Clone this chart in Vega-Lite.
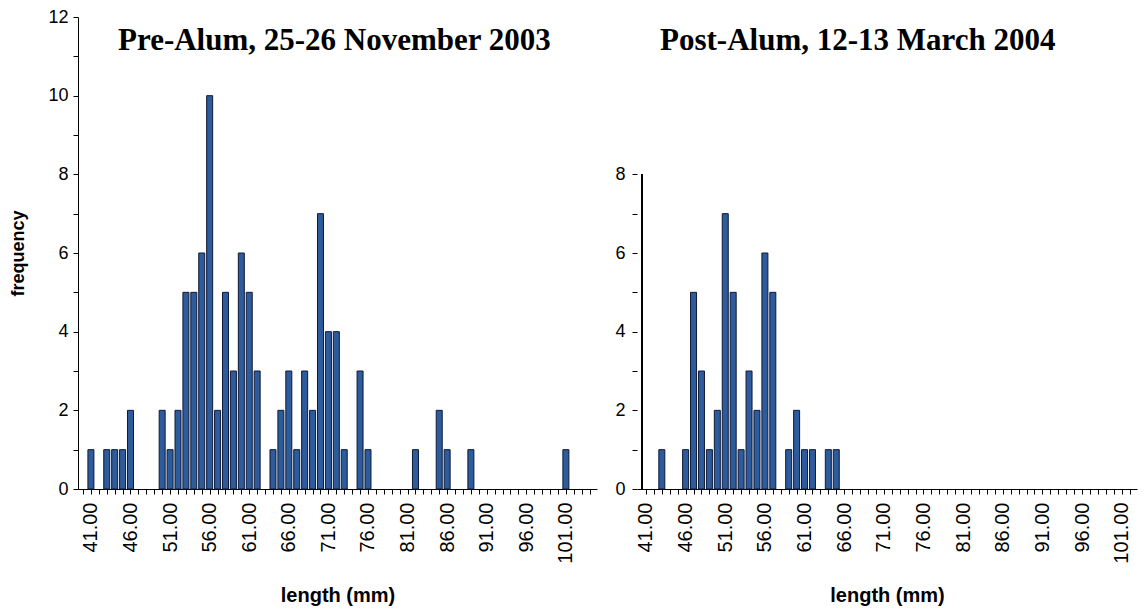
{
  "$schema": "https://vega.github.io/schema/vega-lite/v6.json",
  "background": "white",
  "padding": {"left": 9, "top": 8, "right": 5, "bottom": 5},
  "spacing": 14,
  "config": {
    "view": {"stroke": null},
    "axis": {
      "labelFont": "Liberation Sans",
      "titleFont": "Liberation Sans",
      "labelColor": "black",
      "titleColor": "black",
      "domainColor": "black",
      "tickColor": "black",
      "grid": false,
      "labelFontSize": 18,
      "titleFontSize": 18,
      "titleFontWeight": "bold",
      "tickSize": 5
    },
    "axisX": {"labelFontSize": 20, "titleFontSize": 20},
    "title": {"font": "Liberation Serif", "fontSize": 31, "fontWeight": "bold", "color": "black"}
  },
  "data": {
    "values": [
      {"panel": "pre", "length": 41, "freq": 1},
      {"panel": "pre", "length": 43, "freq": 1},
      {"panel": "pre", "length": 44, "freq": 1},
      {"panel": "pre", "length": 45, "freq": 1},
      {"panel": "pre", "length": 46, "freq": 2},
      {"panel": "pre", "length": 50, "freq": 2},
      {"panel": "pre", "length": 51, "freq": 1},
      {"panel": "pre", "length": 52, "freq": 2},
      {"panel": "pre", "length": 53, "freq": 5},
      {"panel": "pre", "length": 54, "freq": 5},
      {"panel": "pre", "length": 55, "freq": 6},
      {"panel": "pre", "length": 56, "freq": 10},
      {"panel": "pre", "length": 57, "freq": 2},
      {"panel": "pre", "length": 58, "freq": 5},
      {"panel": "pre", "length": 59, "freq": 3},
      {"panel": "pre", "length": 60, "freq": 6},
      {"panel": "pre", "length": 61, "freq": 5},
      {"panel": "pre", "length": 62, "freq": 3},
      {"panel": "pre", "length": 64, "freq": 1},
      {"panel": "pre", "length": 65, "freq": 2},
      {"panel": "pre", "length": 66, "freq": 3},
      {"panel": "pre", "length": 67, "freq": 1},
      {"panel": "pre", "length": 68, "freq": 3},
      {"panel": "pre", "length": 69, "freq": 2},
      {"panel": "pre", "length": 70, "freq": 7},
      {"panel": "pre", "length": 71, "freq": 4},
      {"panel": "pre", "length": 72, "freq": 4},
      {"panel": "pre", "length": 73, "freq": 1},
      {"panel": "pre", "length": 75, "freq": 3},
      {"panel": "pre", "length": 76, "freq": 1},
      {"panel": "pre", "length": 82, "freq": 1},
      {"panel": "pre", "length": 85, "freq": 2},
      {"panel": "pre", "length": 86, "freq": 1},
      {"panel": "pre", "length": 89, "freq": 1},
      {"panel": "pre", "length": 101, "freq": 1},
      {"panel": "post", "length": 43, "freq": 1},
      {"panel": "post", "length": 46, "freq": 1},
      {"panel": "post", "length": 47, "freq": 5},
      {"panel": "post", "length": 48, "freq": 3},
      {"panel": "post", "length": 49, "freq": 1},
      {"panel": "post", "length": 50, "freq": 2},
      {"panel": "post", "length": 51, "freq": 7},
      {"panel": "post", "length": 52, "freq": 5},
      {"panel": "post", "length": 53, "freq": 1},
      {"panel": "post", "length": 54, "freq": 3},
      {"panel": "post", "length": 55, "freq": 2},
      {"panel": "post", "length": 56, "freq": 6},
      {"panel": "post", "length": 57, "freq": 5},
      {"panel": "post", "length": 59, "freq": 1},
      {"panel": "post", "length": 60, "freq": 2},
      {"panel": "post", "length": 61, "freq": 1},
      {"panel": "post", "length": 62, "freq": 1},
      {"panel": "post", "length": 64, "freq": 1},
      {"panel": "post", "length": 65, "freq": 1}
    ]
  },
  "hconcat": [
    {
      "width": 519,
      "height": 472,
      "title": {"text": "Pre-Alum, 25-26 November 2003", "anchor": "start", "frame": "group", "dx": 40, "baseline": "alphabetic", "offset": -73},
      "transform": [{"filter": "datum.panel == 'pre'"}],
      "mark": {"type": "bar", "fill": "#2d5b9c", "stroke": "#0e1a36", "strokeWidth": 1, "size": 6},
      "encoding": {
        "x": {
          "field": "length", "type": "quantitative",
          "scale": {"domain": [40, 104.3], "nice": false, "zero": false},
          "axis": {
            "title": "length (mm)",
            "values": [40,41,42,43,44,45,46,47,48,49,50,51,52,53,54,55,56,57,58,59,60,61,62,63,64,65,66,67,68,69,70,71,72,73,74,75,76,77,78,79,80,81,82,83,84,85,86,87,88,89,90,91,92,93,94,95,96,97,98,99,100,101,102,103,104],
            "labelExpr": "(datum.value - 41) % 5 == 0 ? format(datum.value, '.2f') : ''",
            "labelAngle": -90,
            "labelPadding": 8,
            "labelOverlap": false,
            "titlePadding": 22
          }
        },
        "y": {
          "field": "freq", "type": "quantitative",
          "scale": {"domain": [0, 12], "nice": false},
          "axis": {
            "title": "frequency",
            "values": [0,1,2,3,4,5,6,7,8,9,10,11,12],
            "labelExpr": "datum.value % 2 == 0 ? datum.label : ''",
            "labelPadding": 5,
            "labelOverlap": false,
            "titlePadding": 20
          }
        }
      }
    },
    {
      "width": 500,
      "height": 472,
      "title": {"text": "Post-Alum, 12-13 March 2004", "anchor": "start", "frame": "group", "dx": 23, "baseline": "alphabetic", "offset": -64},
      "transform": [{"filter": "datum.panel == 'post'"}],
      "layer": [
        {
          "mark": {"type": "bar", "fill": "#2d5b9c", "stroke": "#0e1a36", "strokeWidth": 1, "size": 6},
          "encoding": {
            "x": {
              "field": "length", "type": "quantitative",
              "scale": {"domain": [40.5, 102.3], "nice": false, "zero": false},
              "axis": {
                "title": "length (mm)",
                "values": [41,42,43,44,45,46,47,48,49,50,51,52,53,54,55,56,57,58,59,60,61,62,63,64,65,66,67,68,69,70,71,72,73,74,75,76,77,78,79,80,81,82,83,84,85,86,87,88,89,90,91,92,93,94,95,96,97,98,99,100,101,102],
                "labelExpr": "(datum.value - 41) % 5 == 0 ? format(datum.value, '.2f') : ''",
                "labelAngle": -90,
                "labelPadding": 8,
                "labelOverlap": false,
                "titlePadding": 22
              }
            },
            "y": {
              "field": "freq", "type": "quantitative",
              "scale": {"domain": [0, 12], "nice": false},
              "axis": {
                "title": null,
                "domain": false,
                "values": [0,1,2,3,4,5,6,7,8],
                "labelExpr": "datum.value % 2 == 0 ? datum.label : ''",
                "labelPadding": 7,
                "labelOverlap": false
              }
            }
          }
        },
        {
          "mark": {"type": "rule", "color": "black", "strokeWidth": 1},
          "encoding": {
            "x": {
              "datum": 40.5, "type": "quantitative",
              "axis": {
                "title": "length (mm)",
                "values": [41,42,43,44,45,46,47,48,49,50,51,52,53,54,55,56,57,58,59,60,61,62,63,64,65,66,67,68,69,70,71,72,73,74,75,76,77,78,79,80,81,82,83,84,85,86,87,88,89,90,91,92,93,94,95,96,97,98,99,100,101,102],
                "labelExpr": "(datum.value - 41) % 5 == 0 ? format(datum.value, '.2f') : ''",
                "labelAngle": -90,
                "labelPadding": 8,
                "labelOverlap": false,
                "titlePadding": 22
              }
            },
            "y": {
              "datum": 0, "type": "quantitative",
              "axis": {
                "title": null,
                "domain": false,
                "values": [0,1,2,3,4,5,6,7,8],
                "labelExpr": "datum.value % 2 == 0 ? datum.label : ''",
                "labelPadding": 7,
                "labelOverlap": false
              }
            },
            "y2": {"datum": 8}
          }
        }
      ]
    }
  ]
}
